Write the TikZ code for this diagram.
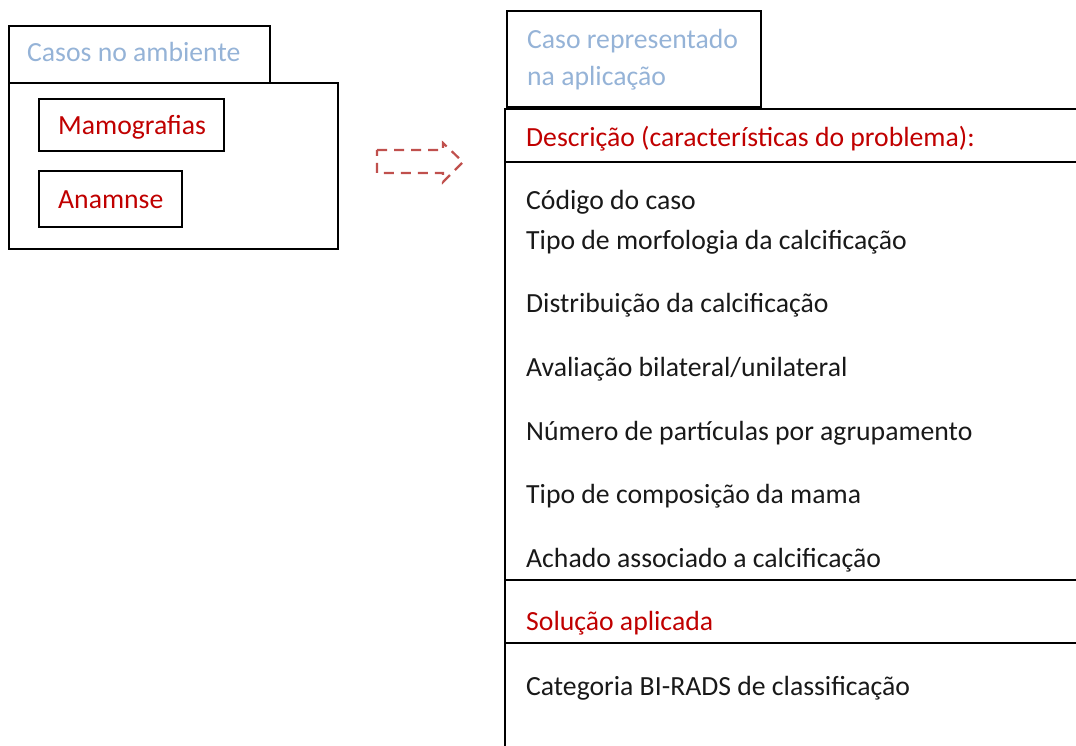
\documentclass[tikz,border=0pt]{standalone}
\usepackage{fontspec}
\setmainfont{Carlito}
\definecolor{cred}{HTML}{C00000}
\definecolor{cblue}{HTML}{95B3D7}
\definecolor{carrow}{HTML}{C0504D}
\tikzset{
  frame/.style={draw=black, line width=1.6pt},
  txt/.style={anchor=base west, inner sep=0pt, font=\fontsize{27.7}{32}\selectfont},
  redtxt/.style={txt, text=cred},
  bluetxt/.style={txt, text=cblue},
  blacktxt/.style={txt, text=black!90},
}
\begin{document}
\begin{tikzpicture}[x=1pt,y=-1pt]
\useasboundingbox (0,0) rectangle (1076,746);
% left package
\draw[frame] (9,26) rectangle (270,83);
\draw[frame] (9,83) rectangle (338,249);
\node[bluetxt] (t1) at (27,62) {Casos no ambiente};
\draw[frame] (39,99) rectangle (224,151);
\node[redtxt] (m) at (58,135) {Mamografias};
\draw[frame] (39,171) rectangle (182,227);
\node[redtxt] (a) at (58,208) {Anamnse};
% arrow
\draw[carrow, line width=2.2pt, dash pattern=on 10pt off 7pt]
  (377,150) -- (443,150) -- (443,143) -- (463,162) -- (443,182) -- (443,173) -- (377,173) -- cycle;
% right package
\draw[frame] (507,11) rectangle (761,107);
\node[bluetxt] (t2) at (527,49) {Caso representado};
\node[bluetxt] (t3) at (527,86) {na aplicação};
\draw[frame] (1080,109) -- (505,109) -- (505,750);
\draw[frame] (505,162) -- (1080,162);
\draw[frame] (505,580) -- (1080,580);
\draw[frame] (505,643) -- (1080,643);
\node[redtxt] (d) at (526,147) {Descrição (características do problema):};
\node[blacktxt] (i1) at (526,210) {Código do caso};
\node[blacktxt] (i2) at (526,249) {Tipo de morfologia da calcificação};
\node[blacktxt] (i3) at (526,312) {Distribuição da calcificação};
\node[blacktxt] (i4) at (526,376) {Avaliação bilateral/unilateral};
\node[blacktxt] (i5) at (526,440) {Número de partículas por agrupamento};
\node[blacktxt] (i6) at (526,503) {Tipo de composição da mama};
\node[blacktxt] (i7) at (526,567) {Achado associado a calcificação};
\node[redtxt] (s) at (526,630) {Solução aplicada};
\node[blacktxt] (c) at (526,695) {Categoria BI-RADS de classificação};
\end{tikzpicture}
\end{document}
